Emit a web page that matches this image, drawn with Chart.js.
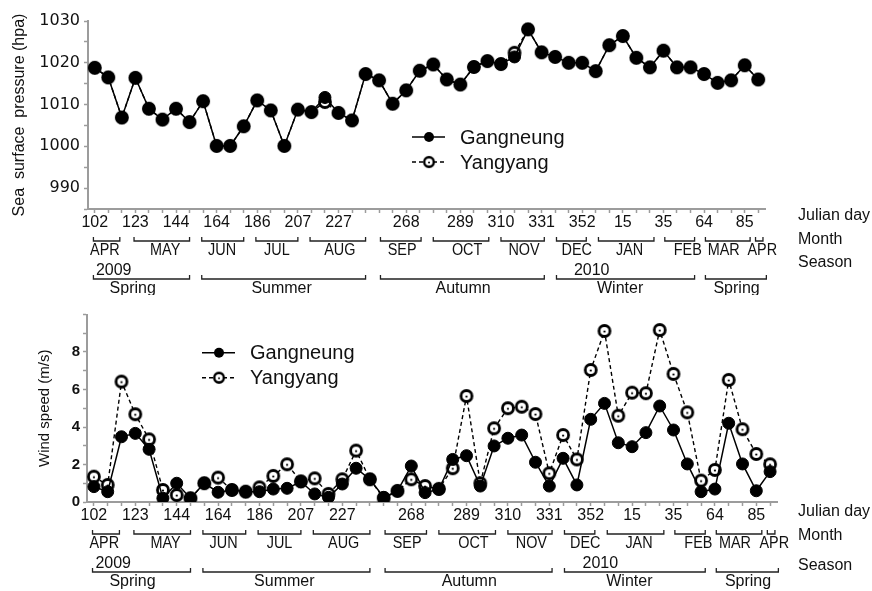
<!DOCTYPE html>
<html>
<head>
<meta charset="utf-8">
<script src="https://cdn.jsdelivr.net/npm/chart.js@4.4.0/dist/chart.umd.min.js"></script>
<style>
  html, body { margin: 0; padding: 0; background: #fff; }
  #wrap { position: relative; width: 872px; height: 591px; }
  canvas { position: absolute; left: 0; }
  #pressure { top: 0; }
  #wind { top: 295px; }
</style>
</head>
<body>
<div id="wrap">
  <canvas id="pressure" width="872" height="295"></canvas>
  <canvas id="wind" width="872" height="296"></canvas>
</div>
<script>
// Julian day tick labels, one slot per weekly sample
const julianLabels = [
  '102', '', '', '123', '', '', '144', '', '', '164',
  '', '', '186', '', '', '207', '', '', '227', '',
  '', '', '', '268', '', '', '', '289', '', '',
  '310', '', '', '331', '', '', '352', '', '', '15',
  '', '', '35', '', '', '64', '', '', '85', ''
];

const pressureGangneung = [
  1018.8, 1016.5, 1006.9, 1016.4, 1009.0, 1006.4, 1009.0, 1005.8, 1010.8, 1000.1,
  1000.1, 1004.8, 1011.0, 1008.6, 1000.1, 1008.8, 1008.2, 1011.7, 1008.0, 1006.2,
  1017.3, 1015.8, 1010.2, 1013.4, 1018.1, 1019.6, 1016.0, 1014.8, 1019.0, 1020.4,
  1019.7, 1021.4, 1028.0, 1022.5, 1021.4, 1020.0, 1020.0, 1018.0, 1024.2, 1026.4,
  1021.2, 1018.9, 1022.9, 1018.9, 1018.9, 1017.3, 1015.2, 1015.8, 1019.4, 1016.0
];
const pressureYangyang = [
  1018.8, 1016.5, 1006.9, 1016.4, 1009.0, 1006.4, 1009.0, 1005.8, 1010.8, 1000.1,
  1000.1, 1004.8, 1011.0, 1008.6, 1000.1, 1008.8, 1008.2, 1010.6, 1008.0, 1006.2,
  1017.3, 1015.8, 1010.2, 1013.4, 1018.1, 1019.6, 1016.0, 1014.8, 1019.0, 1020.4,
  1019.7, 1022.4, 1028.0, 1022.5, 1021.4, 1020.0, 1020.0, 1018.0, 1024.2, 1026.4,
  1021.2, 1018.9, 1022.9, 1018.9, 1018.9, 1017.3, 1015.2, 1015.8, 1019.4, 1016.0
];

const windGangneung = [
  0.82, 0.55, 3.48, 3.66, 2.81, 0.20, 1.00, 0.20, 1.00, 0.52,
  0.64, 0.55, 0.55, 0.69, 0.73, 1.08, 0.43, 0.25, 0.96, 1.80,
  1.21, 0.25, 0.59, 1.92, 0.50, 0.68, 2.27, 2.47, 0.85, 2.99,
  3.40, 3.57, 2.12, 0.85, 2.33, 0.91, 4.41, 5.26, 3.16, 2.95,
  3.70, 5.12, 3.84, 2.03, 0.55, 0.69, 4.20, 2.03, 0.60, 1.62
];
const windYangyang = [
  1.35, 0.91, 6.42, 4.68, 3.34, 0.64, 0.37, 0.20, 1.00, 1.30,
  0.64, 0.55, 0.78, 1.39, 2.01, 1.10, 1.26, 0.43, 1.21, 2.74,
  1.21, 0.20, 0.59, 1.21, 0.85, 0.70, 1.80, 5.65, 1.00, 3.93,
  5.00, 5.08, 4.69, 1.53, 3.57, 2.27, 7.04, 9.12, 4.60, 5.83,
  5.80, 9.17, 6.83, 4.78, 1.14, 1.71, 6.51, 3.88, 2.56, 2.01
];

// calendar spans, in sample-index units
const monthNames  = ['APR', 'MAY', 'JUN', 'JUL', 'AUG', 'SEP', 'OCT', 'NOV', 'DEC', 'JAN', 'FEB', 'MAR', 'APR'];
const monthStart  = [-0.1, 2.9, 7.9, 11.9, 15.9, 21.1, 25.0, 30.0, 34.1, 37.2, 42.1, 45.1, 48.8];
const monthEnd    = [1.85, 7.0, 11.0, 15.0, 20.0, 24.1, 29.1, 33.2, 36.3, 41.3, 44.3, 48.4, 49.35];
const monthCenter = [0.75, 5.2, 9.4, 13.45, 18.1, 22.7, 27.5, 31.7, 35.6, 39.5, 43.8, 46.45, 49.3];

const seasonNames  = ['Spring', 'Summer', 'Autumn', 'Winter', 'Spring'];
const seasonStart  = [-0.1, 7.9, 21.1, 34.1, 45.1];
const seasonEnd    = [7.0, 20.0, 33.2, 44.3, 49.6];
const seasonCenter = [2.8, 13.8, 27.2, 38.8, 47.4];
const yearNames = ['2009', '2010'];
const yearAt    = [1.4, 36.7];

const AXIS_GREY = '#9c9c9c';
const INK = '#111';

function ringMarker(r) {
  const c = document.createElement('canvas');
  const s = Math.ceil(r * 2 + 5);
  c.width = s; c.height = s;
  const g = c.getContext('2d');
  g.beginPath();
  g.arc(s / 2, s / 2, r, 0, Math.PI * 2);
  g.fillStyle = '#fff';
  g.fill();
  g.lineWidth = 2.8;
  g.strokeStyle = '#000';
  g.stroke();
  g.beginPath();
  g.arc(s / 2, s / 2 + 0.6, 1.1, 0, Math.PI * 2);
  g.fillStyle = '#000';
  g.fill();
  return c;
}
const ring = ringMarker(5.5);

// brackets for month / season under the x axis
const calendarRows = {
  id: 'calendarRows',
  afterDraw(chart, args, opts) {
    const ctx = chart.ctx;
    const xs = chart.scales.x;
    const y0 = xs.top;
    const px = v => xs.getPixelForValue(v);

    ctx.save();
    ctx.strokeStyle = '#222';
    ctx.lineWidth = 1.3;
    ctx.fillStyle = INK;
    ctx.textAlign = 'center';
    ctx.textBaseline = 'middle';

    const bracket = (a, b, y) => {
      ctx.beginPath();
      ctx.moveTo(a, y - 4);
      ctx.lineTo(a, y);
      ctx.lineTo(b, y);
      ctx.lineTo(b, y - 4);
      ctx.stroke();
    };
    const narrow = (txt, x, y) => {
      ctx.save();
      ctx.translate(x, y);
      ctx.scale(0.9, 1);
      ctx.fillText(txt, 0, 0);
      ctx.restore();
    };

    ctx.font = '16px "Liberation Sans", Arial, sans-serif';
    monthNames.forEach((m, i) => {
      bracket(px(monthStart[i]), px(monthEnd[i]), y0 + 32);
      narrow(m, px(monthCenter[i]), y0 + 42);
    });

    seasonNames.forEach((s, i) => {
      bracket(px(seasonStart[i]), px(seasonEnd[i]), y0 + 70);
      ctx.fillText(s, px(seasonCenter[i]), y0 + 80);
    });
    yearNames.forEach((yr, i) => ctx.fillText(yr, px(yearAt[i]), y0 + 62));

    ctx.textAlign = 'left';
    ctx.font = '16px "Liberation Sans", Arial, sans-serif';
    ctx.fillText('Julian day', 798, y0 + opts.jd);
    ctx.fillText('Month', 798, y0 + opts.month);
    ctx.fillText('Season', 798, y0 + opts.season);
    ctx.restore();
  }
};

// legend drawn inside the plot area
const innerLegend = {
  id: 'innerLegend',
  afterDraw(chart, args, opts) {
    const ctx = chart.ctx;
    const rows = [opts.y1, opts.y2];
    ctx.save();
    chart.data.datasets.forEach((ds, i) => {
      const y = rows[i];
      ctx.beginPath();
      ctx.setLineDash(ds.borderDash || []);
      ctx.lineWidth = 1.5;
      ctx.strokeStyle = '#000';
      ctx.moveTo(opts.x, y);
      ctx.lineTo(opts.x + 33, y);
      ctx.stroke();
      ctx.setLineDash([]);
      if (ds.pointStyle === 'circle') {
        ctx.beginPath();
        ctx.arc(opts.x + 17, y, 5, 0, Math.PI * 2);
        ctx.fillStyle = '#000';
        ctx.fill();
      } else {
        ctx.drawImage(ring, opts.x + 17 - ring.width / 2 + 1, y - ring.height / 2 + 1, ring.width - 2, ring.height - 2);
      }
      ctx.fillStyle = INK;
      ctx.font = '20px "Liberation Sans", Arial, sans-serif';
      ctx.textAlign = 'left';
      ctx.textBaseline = 'middle';
      ctx.fillText(ds.label, opts.x + 48, y + 1);
    });
    ctx.restore();
  }
};

function seriesSets(gang, yang) {
  return [
    {
      label: 'Gangneung',
      data: gang,
      borderColor: '#000',
      borderWidth: 1.5,
      pointStyle: 'circle',
      pointRadius: 6,
      pointBackgroundColor: '#000',
      pointBorderColor: '#000',
      pointBorderWidth: 1,
      tension: 0
    },
    {
      label: 'Yangyang',
      data: yang,
      borderColor: '#000',
      borderWidth: 1.4,
      borderDash: [4, 3],
      pointStyle: ring,
      pointRadius: 6,
      tension: 0
    }
  ];
}

function xAxis(h) {
  return {
    type: 'category',
    offset: true,
    border: { color: AXIS_GREY, width: 2 },
    grid: { drawOnChartArea: false, offset: false, tickLength: 4, tickColor: AXIS_GREY, tickWidth: 1.5 },
    ticks: {
      autoSkip: false, maxRotation: 0, minRotation: 0, padding: 0,
      color: INK, font: { family: '"Liberation Sans", Arial, sans-serif', size: 16 }
    },
    afterFit(scale) { scale.height = h; }
  };
}

// top panel: sea surface pressure
new Chart(document.getElementById('pressure'), {
  type: 'line',
  data: { labels: julianLabels, datasets: seriesSets(pressureGangneung, pressureYangyang) },
  options: {
    responsive: false,
    animation: false,
    layout: { padding: { left: 0, top: 21, right: 107, bottom: 0 } },
    plugins: {
      legend: { display: false },
      tooltip: { enabled: false },
      innerLegend: { x: 412, y1: 137, y2: 162 },
      calendarRows: { jd: 7, month: 31, season: 54 }
    },
    scales: {
      x: xAxis(86),
      y: {
        min: 985,
        max: 1030,
        border: { color: AXIS_GREY, width: 2 },
        grid: { drawOnChartArea: false, tickLength: 4, tickColor: AXIS_GREY, tickWidth: 1.5 },
        ticks: {
          stepSize: 5, autoSkip: false, padding: 4, color: INK,
          font: { family: '"DejaVu Sans", sans-serif', size: 16 },
          callback: v => (v % 10 === 0 ? v : '')
        },
        title: {
          display: true,
          text: 'Sea  surface  pressure (hpa)',
          color: INK,
          font: { family: '"Liberation Sans", Arial, sans-serif', size: 16 },
          padding: { top: 10, bottom: 0 }
        },
        afterFit(scale) { scale.width = 88; }
      }
    }
  },
  plugins: [calendarRows, innerLegend]
});

// bottom panel: wind speed
new Chart(document.getElementById('wind'), {
  type: 'line',
  data: { labels: julianLabels, datasets: seriesSets(windGangneung, windYangyang) },
  options: {
    responsive: false,
    animation: false,
    layout: { padding: { left: 0, top: 19.5, right: 95, bottom: 0 } },
    plugins: {
      legend: { display: false },
      tooltip: { enabled: false },
      innerLegend: { x: 202, y1: 57.7, y2: 82.7 },
      calendarRows: { jd: 10, month: 34, season: 64 }
    },
    scales: {
      x: xAxis(89),
      y: {
        min: 0,
        max: 10,
        border: { color: AXIS_GREY, width: 2 },
        grid: { drawOnChartArea: false, tickLength: 4, tickColor: AXIS_GREY, tickWidth: 1.5 },
        ticks: {
          stepSize: 1, autoSkip: false, padding: 3, color: INK,
          font: { family: '"Liberation Sans", Arial, sans-serif', size: 15, weight: 'bold' },
          callback: v => (v % 2 === 0 && v < 10 ? v : '')
        },
        title: {
          display: true,
          text: 'Wind speed (m/s)',
          color: INK,
          font: { family: '"Liberation Sans", Arial, sans-serif', size: 15 },
          padding: { top: 36, bottom: 0 }
        },
        afterFit(scale) { scale.width = 87; }
      }
    }
  },
  plugins: [calendarRows, innerLegend]
});
</script>
</body>
</html>
